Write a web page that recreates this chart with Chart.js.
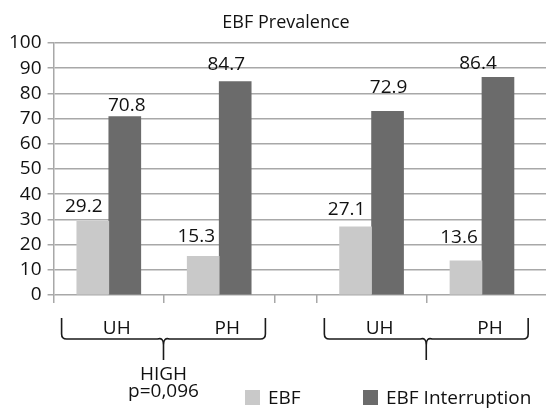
<!DOCTYPE html>
<html>
<head>
<meta charset="utf-8">
<title>EBF Prevalence</title>
<script src="https://cdn.jsdelivr.net/npm/chart.js@4"></script>
<style>
  html, body { margin: 0; padding: 0; background: #ffffff; }
  #wrap { width: 546px; height: 409px; }
</style>
</head>
<body>
<div id="wrap"><canvas id="myChart"></canvas></div>
<script>
// Chart data
const chartTitle = 'EBF Prevalence';
const categories = ['UH', 'PH', 'UH', 'PH'];
const groupLabels = [['HIGH', 'p=0,096'], []];
const seriesNames = ['EBF', 'EBF Interruption'];
const ebfValues = [29.2, 15.3, 27.1, 13.6];
const interruptionValues = [70.8, 84.7, 72.9, 86.4];
const yMin = 0;
const yMax = 100;
const yStep = 10;

// Layout / style settings
const FONT = '"Open Sans", "Noto Sans", sans-serif';
const FONT_SIZE = 19;
const TEXT = '#111111';
const GRID = '#a8a8a8';
const colors = ['#c9c9c9', '#6b6b6b'];
const perGroup = 2;          // categories per brace group
const groupGap = 0.38;       // empty space between groups, in category widths
const xMaxUnits = 4.46;      // plot runs off the right edge like the original
// small nudges of the value labels [dx, gap above bar]
const labelNudge = [
    [[-9, 9], [-7, 14], [-9, 12], [-7, 18]],
    [[2, 6], [-9, 12], [1, 18], [-20, 8]]
];

// position of a category on the x scale
function catPos(i) {
    const g = Math.floor(i / perGroup);
    return i + 0.5 + g * groupGap;
}
function groupStart(g) {
    return g * (perGroup + groupGap);
}

const tickBounds = [];
for (let g = 0; g < groupLabels.length; g++) {
    for (let k = 0; k < perGroup; k++) tickBounds.push(groupStart(g) + k);
}
tickBounds.push(perGroup);

const seriesValues = [ebfValues, interruptionValues];

const decorations = {
    id: 'decorations',
    afterDatasetsDraw(chart) {
        const ctx = chart.ctx;
        const area = chart.chartArea;
        const xs = chart.scales.x;
        ctx.save();
        ctx.fillStyle = TEXT;
        ctx.textAlign = 'center';
        ctx.textBaseline = 'alphabetic';

        // title
        ctx.font = '18px ' + FONT;
        ctx.fillText(chartTitle, chart.width / 2 + 13, 28);
        ctx.font = FONT_SIZE + 'px ' + FONT;

        // value labels
        chart.data.datasets.forEach((ds, d) => {
            const meta = chart.getDatasetMeta(d);
            meta.data.forEach((bar, i) => {
                const n = labelNudge[d][i];
                ctx.fillText(seriesValues[d][i].toFixed(1), bar.x + n[0], bar.y - n[1]);
            });
        });

        // category labels
        categories.forEach((c, i) => {
            ctx.fillText(c, xs.getPixelForValue(catPos(i)) + 8, area.bottom + 39);
        });

        // braces and group labels
        ctx.strokeStyle = '#1a1a1a';
        ctx.lineWidth = 1.6;
        groupLabels.forEach((lines, g) => {
            const x0 = xs.getPixelForValue(groupStart(g)) + 8;
            const x1 = xs.getPixelForValue(groupStart(g) + perGroup) - 9;
            const xm = (x0 + x1) / 2;
            const yTop = area.bottom + 23;
            const yMid = area.bottom + 44;
            const yEnd = area.bottom + 65;
            ctx.beginPath();
            ctx.moveTo(x0, yTop);
            ctx.lineTo(x0, yMid - 5);
            ctx.quadraticCurveTo(x0, yMid, x0 + 5, yMid);
            ctx.lineTo(xm - 6, yMid);
            ctx.quadraticCurveTo(xm, yMid - 2, xm, yMid + 6);
            ctx.lineTo(xm, yEnd);
            ctx.moveTo(xm, yMid + 6);
            ctx.quadraticCurveTo(xm, yMid - 2, xm + 6, yMid);
            ctx.lineTo(x1 - 5, yMid);
            ctx.quadraticCurveTo(x1, yMid, x1, yMid - 5);
            ctx.lineTo(x1, yTop);
            ctx.stroke();
            lines.forEach((t, k) => {
                ctx.fillText(t, xm, area.bottom + 85 + k * 17);
            });
        });

        // legend
        ctx.textAlign = 'left';
        const legendX = [245, 363];
        chart.data.datasets.forEach((ds, d) => {
            ctx.fillStyle = ds.backgroundColor;
            ctx.fillRect(legendX[d], 390, 15, 15);
            ctx.fillStyle = TEXT;
            ctx.fillText(ds.label, legendX[d] + 23, 404);
        });
        ctx.restore();
    }
};

const ctx = document.getElementById('myChart');

new Chart(ctx, {
    type: 'bar',
    data: {
        datasets: seriesNames.map((name, d) => ({
            label: name,
            data: seriesValues[d].map((v, i) => ({ x: catPos(i), y: v })),
            backgroundColor: colors[d],
            borderWidth: 0,
            barThickness: 32
        }))
    },
    options: {
        responsive: true,
        maintainAspectRatio: false,
        animation: false,
        layout: { padding: { left: 3, top: 43, right: 0, bottom: 106 } },
        plugins: {
            legend: { display: false },
            title: { display: false },
            tooltip: { enabled: false }
        },
        scales: {
            x: {
                type: 'linear',
                offset: false,
                min: 0,
                max: xMaxUnits,
                afterBuildTicks: (scale) => {
                    scale.ticks = tickBounds.map(v => ({ value: v }));
                },
                grid: {
                    offset: false,
                    drawOnChartArea: false,
                    drawTicks: true,
                    tickLength: 8,
                    color: GRID,
                    lineWidth: 1.5
                },
                border: { display: false },
                ticks: { display: false }
            },
            y: {
                min: yMin,
                max: yMax,
                ticks: {
                    stepSize: yStep,
                    autoSkip: false,
                    padding: 6,
                    color: TEXT,
                    font: { family: FONT, size: FONT_SIZE, lineHeight: 1 }
                },
                grid: {
                    color: GRID,
                    lineWidth: 1.5,
                    tickLength: 6
                },
                border: { color: GRID, width: 1.5 }
            }
        }
    },
    plugins: [decorations]
});
</script>
</body>
</html>
